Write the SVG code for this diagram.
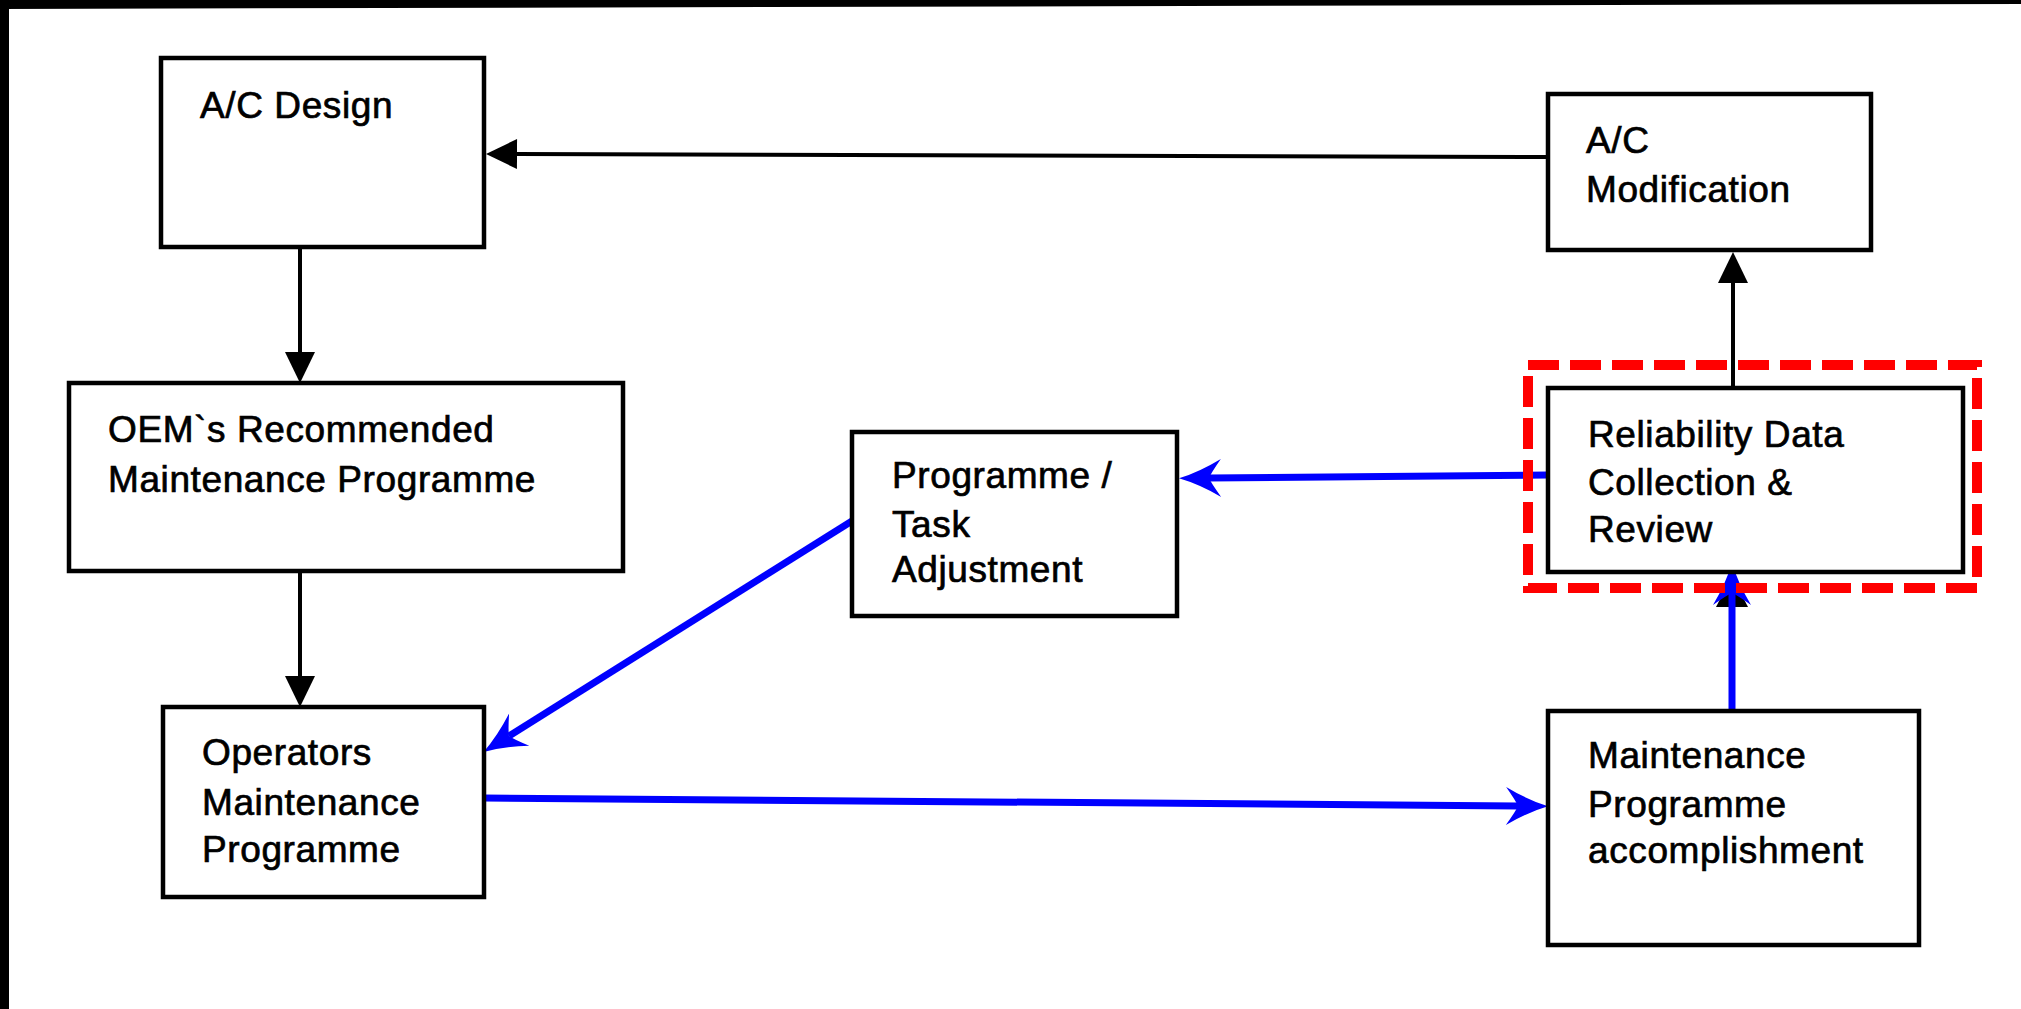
<svg xmlns="http://www.w3.org/2000/svg" width="2021" height="1009" viewBox="0 0 2021 1009">
  <style>
    .box { fill: #ffffff; stroke: #000000; stroke-width: 4.5; }
    .lbl { font-family: "Liberation Sans", Arial, sans-serif; font-size: 37px; letter-spacing: 0.6px; fill: #000000; stroke: #000000; stroke-width: 0.7px; }
    .blk { stroke: #000000; stroke-width: 4; fill: none; }
    .blu { stroke: #0000ff; stroke-width: 7; fill: none; }
    .hl { fill: none; stroke: #ff0000; stroke-width: 10; stroke-dasharray: 31 11; }
  </style>
  <defs>
    <marker id="ah-black" markerUnits="userSpaceOnUse" orient="auto" refX="0" refY="0" markerWidth="40" markerHeight="40" overflow="visible">
      <path d="M0,-15 L31,0 L0,15 Z" fill="#000000"/>
    </marker>
    <marker id="ah-blue" markerUnits="userSpaceOnUse" orient="auto" refX="0" refY="0" markerWidth="50" markerHeight="50" overflow="visible">
      <path d="M30,0 Q10,-6 -12,-19 Q-2,-5 0,0 Q-2,5 -12,19 Q10,6 30,0 Z" fill="#0000ff"/>
    </marker>
  </defs>

  <rect x="0" y="0" width="2021" height="1009" fill="#ffffff"/>
  <g id="frame">
    <rect x="0" y="0" width="9" height="1009" fill="#000000"/>
    <polygon points="0,0 2021,0 2021,4 0,9" fill="#000000"/>
  </g>

  <g id="connectors">
    <line class="blk" x1="300" y1="247" x2="300" y2="352" marker-end="url(#ah-black)"/>
    <line class="blk" x1="300" y1="571" x2="300" y2="676" marker-end="url(#ah-black)"/>
    <line class="blk" x1="1733" y1="400" x2="1733" y2="283" marker-end="url(#ah-black)"/>
    <line class="blk" x1="1548" y1="157" x2="517" y2="154" marker-end="url(#ah-black)"/>
    <path d="M1732,576 L1748,607 L1716,607 Z" fill="#000000"/>
    <line class="blu" x1="1548" y1="475" x2="1209" y2="478" marker-end="url(#ah-blue)"/>
    <line class="blu" x1="852" y1="521" x2="509" y2="736" marker-end="url(#ah-blue)"/>
    <line class="blu" x1="484" y1="798" x2="1518" y2="806" marker-end="url(#ah-blue)"/>
    <line class="blu" x1="1732" y1="711" x2="1732" y2="593" marker-end="url(#ah-blue)"/>
  </g>

  <g id="node-ac-design">
    <rect class="box" x="161" y="58" width="323" height="189"/>
    <text class="lbl" x="200" y="118">A/C Design</text>
  </g>

  <g id="node-oem">
    <rect class="box" x="69" y="383" width="554" height="188"/>
    <text class="lbl" x="108" y="442">OEM`s Recommended</text>
    <text class="lbl" x="108" y="492">Maintenance Programme</text>
  </g>

  <g id="node-operators">
    <rect class="box" x="163" y="707" width="321" height="190"/>
    <text class="lbl" x="202" y="765">Operators</text>
    <text class="lbl" x="202" y="815">Maintenance</text>
    <text class="lbl" x="202" y="862">Programme</text>
  </g>

  <g id="node-adjustment">
    <rect class="box" x="852" y="432" width="325" height="184"/>
    <text class="lbl" x="892" y="488">Programme /</text>
    <text class="lbl" x="892" y="537">Task</text>
    <text class="lbl" x="892" y="582">Adjustment</text>
  </g>

  <g id="node-ac-modification">
    <rect class="box" x="1548" y="94" width="323" height="156"/>
    <text class="lbl" x="1586" y="153">A/C</text>
    <text class="lbl" x="1586" y="202">Modification</text>
  </g>

  <g id="node-reliability">
    <rect class="box" x="1548" y="388" width="415" height="184"/>
    <text class="lbl" x="1588" y="447">Reliability Data</text>
    <text class="lbl" x="1588" y="495">Collection &amp;</text>
    <text class="lbl" x="1588" y="542">Review</text>
  </g>

  <g id="highlight">
    <rect class="hl" x="1528" y="365" width="449" height="223"/>
  </g>

  <g id="node-accomplishment">
    <rect class="box" x="1548" y="711" width="371" height="234"/>
    <text class="lbl" x="1588" y="768">Maintenance</text>
    <text class="lbl" x="1588" y="817">Programme</text>
    <text class="lbl" x="1588" y="863">accomplishment</text>
  </g>
</svg>
